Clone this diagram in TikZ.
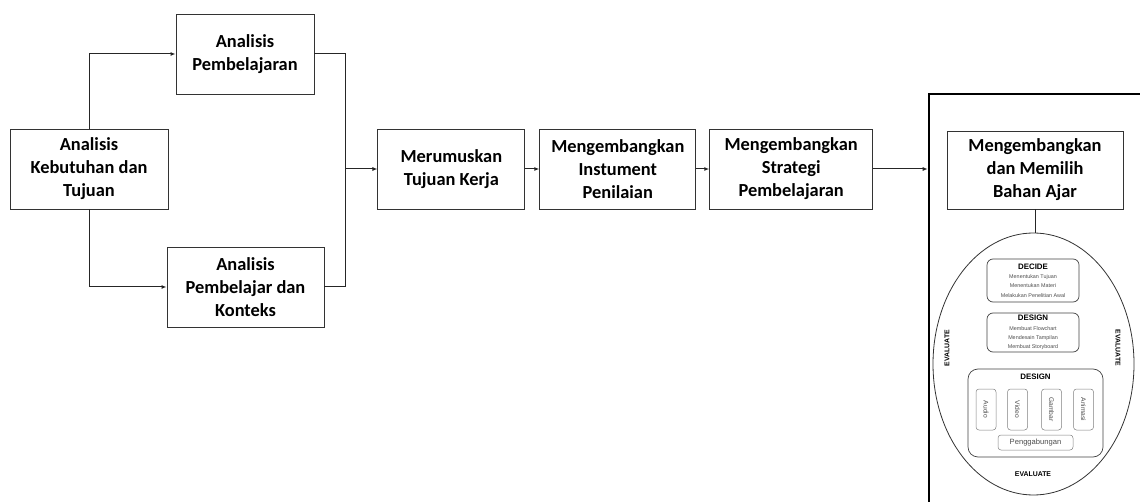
\documentclass[tikz,border=0pt]{standalone}
\usepackage{fontspec}
\setmainfont{Carlito}
\newfontfamily\arialfont{Liberation Sans}
\usetikzlibrary{shapes.geometric,arrows.meta,positioning}

\begin{document}
\begin{tikzpicture}[
    x=1pt, y=-1pt,
    >={Latex[length=5pt,width=4pt]},
    node distance = 14pt,
    box/.style  ={rectangle, draw=black!80, line width=0.9pt, align=center,
                  font=\fontsize{18.4}{23}\selectfont\bfseries,
                  minimum height=80pt, inner sep=2pt},
    stage/.style={rectangle, draw=black!75, line width=0.7pt,
                  rounded corners=6pt, align=center, inner sep=0pt,
                  font=\arialfont\fontsize{5.4}{9.3}\selectfont, text=black!70},
    media/.style={rectangle, draw=black!50, line width=0.5pt,
                  rounded corners=3pt, inner sep=0pt,
                  minimum width=20pt, minimum height=41pt,
                  font=\arialfont\fontsize{6.7}{8}\selectfont, text=black!70},
    ttl/.style  ={font=\arialfont\fontsize{7.9}{9}\selectfont\bfseries},
    eval/.style ={font=\arialfont\fontsize{6.9}{8}\selectfont\bfseries},
    arrow/.style={->, line width=1pt, draw=black!85},
    line/.style ={line width=1pt, draw=black!85}
]
\useasboundingbox (0,0) rectangle (1140,502);

%–––– ANALYSIS –––––––––––––––––––––––––––––––––––––
\node (keb)     [box, minimum width=158pt] at (89,169)   {Analisis\\Kebutuhan dan\\Tujuan};
\node (pemb)    [box, minimum width=138pt] at (245,54)   {Analisis\\Pembelajaran};
\node (konteks) [box, minimum width=157pt] at (245.5,287) {Analisis\\Pembelajar dan\\Konteks};

\draw[arrow] (keb.north) |- (pemb.west);
\draw[arrow] (keb.south) |- (konteks.west);

%–––– MAIN CHAIN ––––––––––––––––––––––––––––––––––
\node (rumus)    [box, minimum width=147pt, right=209pt of keb]   {Merumuskan\\Tujuan Kerja};
\node (nilai)    [box, minimum width=156pt, right=of rumus]       {Mengembangkan\\Instument\\Penilaian};
\node (strategi) [box, minimum width=163pt, right=13pt of nilai]  {Mengembangkan\\Strategi\\Pembelajaran};

\coordinate (join) at (345,169);
\draw[line] (pemb.east) -| (join |- konteks.east) -- (konteks.east);
\draw[arrow] (join) -- (rumus.west);

\foreach \a/\b in {rumus/nilai, nilai/strategi}
  \draw[arrow] (\a) -- (\b);

%–––– BAHAN AJAR –––––––––––––––––––––––––––––––––
\node (frame) [rectangle, draw=black, line width=2.6pt, inner sep=0pt,
               minimum width=240pt, minimum height=430pt] at (1049,309) {};
\draw[arrow] (strategi.east) -- (strategi.east -| frame.west);

\node (bahan) [box, minimum width=176pt, minimum height=78pt] at (1035,170)
      {Mengembangkan\\dan Memilih\\Bahan Ajar};

\node (cycle) [ellipse, draw=black!80, line width=0.8pt, inner sep=0pt,
               minimum width=201pt, minimum height=262pt] at (1033.5,364) {};
\draw[line] (bahan.south) -- (bahan.south |- cycle.north);

%–––– STAGES INSIDE ––––––––––––––––––––––––––––––
\node (decide) [stage, minimum width=92pt, minimum height=43pt] at (1033,280.5)
  {{\fontsize{7.9}{9}\selectfont\bfseries\color{black}DECIDE}\\
   Menentukan Tujuan\\Menentukan Materi\\Melakukan Penelitian Awal};
\node (design) [stage, minimum width=92pt, minimum height=39pt] at (1033,332.5)
  {{\fontsize{7.9}{9}\selectfont\bfseries\color{black}DESIGN}\\
   Membuat Flowchart\\Mendesain Tampilan\\Membuat Storyboard};

\node (media) [stage, rounded corners=10pt, minimum width=135pt,
               minimum height=88pt] at (1035.5,413) {};
\node (mtitle) [ttl, below=2pt of media.north] {DESIGN};

\node (audio)   [media] at (986,409.5)    {\rotatebox{-90}{Audio}};
\node (video)   [media] at (1017.5,409.5) {\rotatebox{-90}{Video}};
\node (gambar)  [media] at (1051.5,409.5) {\rotatebox{-90}{Gambar}};
\node (animasi) [media] at (1083.5,409.5) {\rotatebox{-90}{Animasi}};
\node (gabung)  [media, minimum width=75pt, minimum height=15pt,
                 font=\arialfont\fontsize{7.6}{9}\selectfont] at (1035.5,442.5) {Penggabungan};

%–––– EVALUATE LABELS ––––––––––––––––––––––––––––
\node (evl) [eval, rotate=90]  at (947,348)  {EVALUATE};
\node (evr) [eval, rotate=-90] at (1118,348) {EVALUATE};
\node (evb) [eval]             at (1033,474) {EVALUATE};
\end{tikzpicture}
\end{document}
